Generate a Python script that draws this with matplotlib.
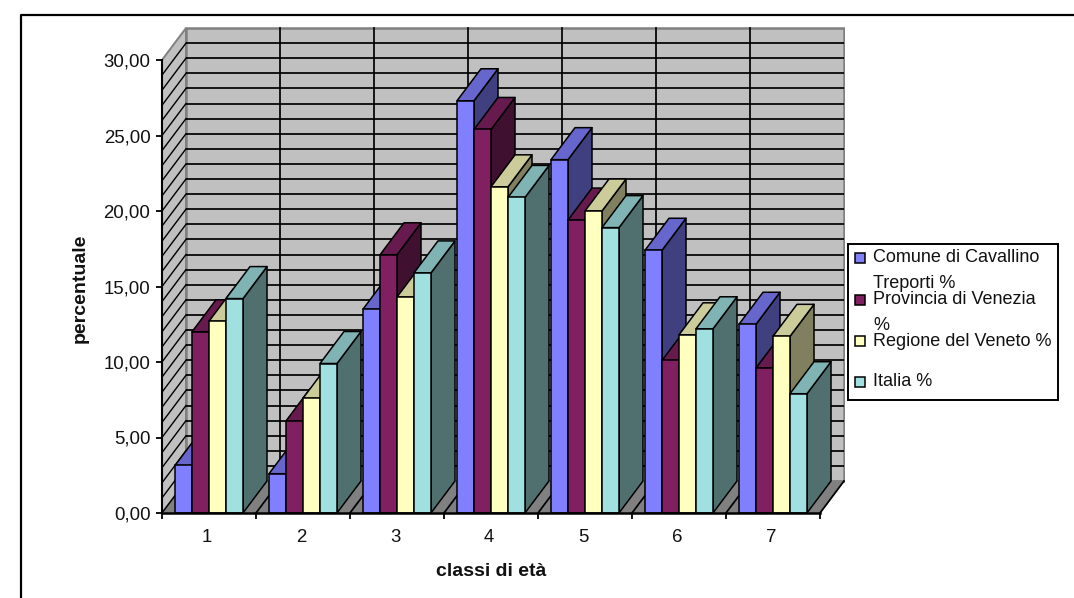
import matplotlib
matplotlib.use("Agg")
import matplotlib.pyplot as plt
from matplotlib.patches import Rectangle

plt.rcParams['font.family'] = ['Liberation Sans', 'DejaVu Sans']

categories = ['1', '2', '3', '4', '5', '6', '7']
comune = [3.15, 2.6, 13.5, 27.3, 23.4, 17.4, 12.5]
provincia = [12.0, 6.1, 17.1, 25.4, 19.4, 10.1, 9.6]
regione = [12.7, 7.6, 14.3, 21.6, 20.0, 11.8, 11.7]
italia = [14.2, 9.9, 15.9, 20.9, 18.9, 12.2, 7.9]
series_names = ['Comune di Cavallino\nTreporti %', 'Provincia di Venezia\n%',
                'Regione del Veneto %', 'Italia %']
y_ticks = [0, 5, 10, 15, 20, 25, 30]
series = [comune, provincia, regione, italia]
front_c = ['#8080FF', '#802060', '#FFFFC0', '#A0E0E0']
top_c = ['#6666CC', '#661A4D', '#CCCC9A', '#80B3B3']
side_c = ['#404080', '#401030', '#808060', '#507070']

W, H = 1074, 598
fig = plt.figure(figsize=(W / 100, H / 100), dpi=100, facecolor='white')

# pixel geometry of the plot
L, R, B, T = 162, 845, 513, 27
ax = fig.add_axes([L / W, 1 - B / H, (R - L) / W, (B - T) / H])
px_x = 94.0       # px per category
px_y = 15.1       # px per percent
ax.set_xlim(0, (R - L) / px_x)
ax.set_ylim(0, (B - T) / px_y)
ax.patch.set_alpha(0)
dx = 24 / px_x    # depth offset
dy = 32 / px_y
ymax = 30
n = len(categories)
lw = 1.25

# walls and floor
ax.fill([0, dx, dx, 0], [0, dy, ymax + dy, ymax], fc='#C0C0C0', ec='#808080', lw=1.4, zorder=1)
ax.fill([dx, n + dx, n + dx, dx], [dy, dy, ymax + dy, ymax + dy], fc='#C0C0C0', ec='#808080', lw=1.8, zorder=1)
ax.fill([0, n, n + dx, dx], [0, 0, dy, dy], fc='#808080', ec='#808080', lw=1, zorder=1)

# gridlines on the walls
for v in range(1, ymax):
    ax.plot([dx, n + dx], [v + dy, v + dy], color='black', lw=lw, zorder=2, solid_capstyle='butt')
for v in range(0, ymax):
    ax.plot([0, dx], [v, v + dy], color='black', lw=1.0, zorder=2)
for c in range(1, n):
    ax.plot([c + dx, c + dx], [dy, ymax + dy], color='black', lw=lw, zorder=2)
    ax.plot([c, c + dx], [0, dy], color='black', lw=lw, zorder=2)
ax.plot([n, n + dx], [0, dy], color='black', lw=lw, zorder=2)

# 3-D bars
bw = 17.0 / px_x
start = 13.0 / px_x
z = 3
for c in range(n):
    for s, vals in enumerate(series):
        x0 = c + start + s * bw
        x1 = x0 + bw
        v = vals[c]
        kw = dict(ec='black', lw=1.1, joinstyle='round')
        ax.fill([x1, x1 + dx, x1 + dx, x1], [0, dy, v + dy, v], fc=side_c[s], zorder=z, **kw)
        ax.fill([x0, x1, x1 + dx, x0 + dx], [v, v, v + dy, v + dy], fc=top_c[s], zorder=z, **kw)
        ax.bar(x0, v, width=bw, align='edge', color=front_c[s], edgecolor='black',
               linewidth=1.1, zorder=z + 0.5)
        z += 1

# axes
for sp in ['top', 'right']:
    ax.spines[sp].set_visible(False)
ax.spines['left'].set_bounds(0, ymax)
ax.spines['bottom'].set_bounds(0, n)
ax.spines['left'].set_linewidth(1.5)
ax.spines['bottom'].set_linewidth(1.8)
ax.spines['left'].set_zorder(500)
ax.spines['bottom'].set_zorder(500)
ax.set_yticks(y_ticks)
ax.set_yticklabels([f'{v:.2f}'.replace('.', ',') for v in y_ticks], fontsize=13.4, color='#111111')
ax.tick_params(axis='y', length=4.3, width=1.3, pad=4.0)
ax.set_xticks(range(n + 1))
ax.set_xticklabels([])
ax.tick_params(axis='x', which='major', length=4.3, width=1.3)
ax.set_xticks([i + 0.48 for i in range(n)], minor=True)
ax.set_xticklabels(categories, minor=True, fontsize=13.4, color='#111111')
ax.tick_params(axis='x', which='minor', length=0, pad=11.5)

fig.text(491 / W, 1 - 571 / H, 'classi di età', fontsize=14, fontweight='bold',
         ha='center', va='center', color='#111111')
fig.text(80 / W, 1 - 288 / H, 'percentuale', fontsize=14, fontweight='bold', rotation=90,
         ha='center', va='center', color='#111111')


def frect(x0, y0, x1, y1, **kw):
    fig.add_artist(Rectangle((x0 / W, 1 - y1 / H), (x1 - x0) / W, (y1 - y0) / H,
                             transform=fig.transFigure, **kw))


# outer frame: only its left and top edges fall inside the image
fig.add_artist(plt.Line2D([21 / W, 21 / W, 1], [0, 1 - 15 / H, 1 - 15 / H],
                          transform=fig.transFigure, color='black', lw=1.6))

# legend
frect(848, 244, 1058, 400, fc='white', ec='black', lw=1.4, zorder=600)
swatch_y = [258, 300, 341, 382]
for s, name in enumerate(series_names):
    frect(855, swatch_y[s] - 5, 865, swatch_y[s] + 5, fc=front_c[s], ec='black', lw=1.1, zorder=601)
    for i, line in enumerate(name.split('\n')):
        fig.text(873 / W, 1 - (swatch_y[s] + 25 * i) / H, line, fontsize=13.0, ha='left',
                 va='center', color='#111111', zorder=602)

fig.savefig('out.png', dpi=100, facecolor='white')
